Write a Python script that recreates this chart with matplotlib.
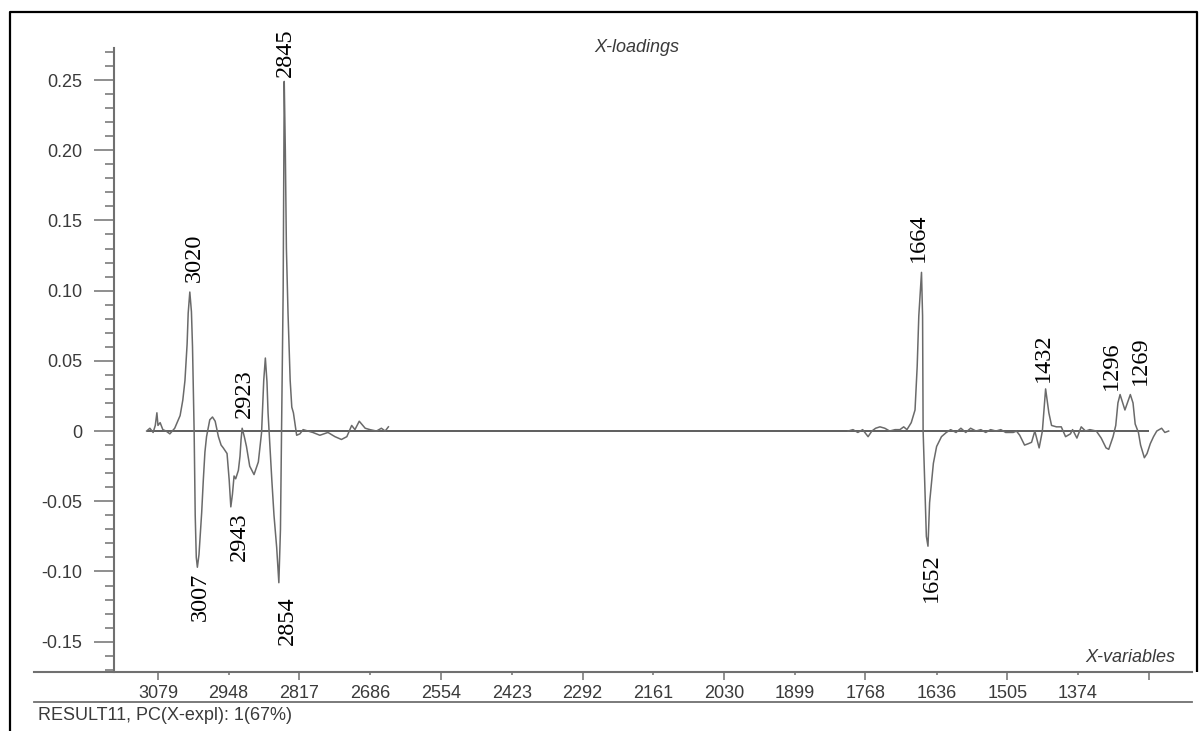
import numpy as np
import matplotlib
matplotlib.use('Agg')
import matplotlib.pyplot as plt
from matplotlib.ticker import FixedLocator

plt.rcParams['font.family'] = ['Liberation Sans', 'DejaVu Sans']

# loadings, two spectral windows (the middle range is excluded)
wn_high = [3100, 3094, 3088, 3084, 3081, 3079, 3075, 3070, 3064, 3057, 3048, 3038, 3033,
           3029, 3025, 3023, 3020, 3017, 3015, 3012, 3010, 3008, 3006, 3003, 3000, 2998,
           2995, 2992, 2989, 2985, 2983, 2978, 2973, 2967, 2962, 2958, 2951, 2947, 2944,
           2941, 2938, 2935, 2930, 2927, 2925, 2923, 2919, 2915, 2909, 2901, 2893, 2887,
           2883, 2880, 2877, 2875, 2868, 2864, 2859, 2855, 2852, 2850, 2847, 2845, 2843,
           2841, 2838, 2834, 2831, 2828, 2822, 2816, 2810, 2801, 2792, 2779, 2764, 2751,
           2739, 2729, 2720, 2714, 2706, 2695, 2686, 2674, 2665, 2658, 2652]
load_high = [0.000, 0.002, -0.001, 0.004, 0.013, 0.004, 0.006, 0.001, 0.000, -0.002, 0.002,
             0.011, 0.022, 0.036, 0.062, 0.084, 0.099, 0.085, 0.060, 0.000, -0.060, -0.090,
             -0.097, -0.088, -0.070, -0.058, -0.035, -0.015, -0.004, 0.004, 0.008, 0.010,
             0.007, -0.004, -0.010, -0.012, -0.016, -0.035, -0.054, -0.045, -0.032, -0.034,
             -0.028, -0.018, -0.006, 0.002, -0.004, -0.011, -0.025, -0.031, -0.022, -0.001,
             0.036, 0.052, 0.035, 0.013, -0.035, -0.060, -0.083, -0.108, -0.070, 0.000,
             0.100, 0.249, 0.200, 0.130, 0.084, 0.036, 0.017, 0.013, -0.003, -0.002, 0.001,
             0.000, -0.001, -0.003, -0.001, -0.004, -0.006, -0.004, 0.004, 0.001, 0.007,
             0.002, 0.001, 0.000, 0.002, 0.000, 0.003]

wn_low = [1800, 1791, 1782, 1773, 1763, 1756, 1749, 1741, 1732, 1723, 1713, 1704, 1697, 1691,
          1683, 1676, 1672, 1669, 1664, 1662, 1661, 1658, 1655, 1652, 1649, 1642, 1636, 1627,
          1618, 1610, 1600, 1591, 1582, 1573, 1563, 1554, 1545, 1536, 1526, 1517, 1508, 1494,
          1488, 1482, 1473, 1466, 1460, 1454, 1446, 1440, 1434, 1428, 1423, 1414, 1405, 1397,
          1388, 1384, 1376, 1368, 1360, 1352, 1340, 1331, 1322, 1317, 1309, 1304, 1300, 1296,
          1287, 1277, 1272, 1268, 1262, 1258, 1251, 1246, 1240, 1234, 1228, 1219, 1213, 1206]
load_low = [0.000, 0.001, -0.001, 0.001, -0.004, 0.000, 0.002, 0.003, 0.002, 0.000, 0.001,
            0.001, 0.003, 0.001, 0.006, 0.015, 0.046, 0.082, 0.113, 0.082, 0.000, -0.037,
            -0.075, -0.082, -0.051, -0.023, -0.011, -0.004, -0.001, 0.001, -0.001, 0.002,
            -0.001, 0.002, 0.000, 0.001, -0.001, 0.001, 0.000, 0.001, -0.001, -0.001, 0.000,
            -0.003, -0.010, -0.009, -0.008, 0.000, -0.012, 0.000, 0.030, 0.013, 0.004, 0.003,
            0.003, -0.004, -0.002, 0.001, -0.005, 0.003, 0.000, 0.001, 0.000, -0.005, -0.012,
            -0.013, -0.004, 0.004, 0.020, 0.026, 0.015, 0.026, 0.020, 0.005, -0.001, -0.010,
            -0.019, -0.016, -0.009, -0.004, 0.000, 0.002, -0.001, 0.000]

# marked peaks: label text = wavenumber, loading at the marked extreme
peak_wn = [3020, 2845, 2923, 1664, 1432, 1296, 1269, 3007, 2943, 2854, 1652]
peak_load = [0.099, 0.249, 0.002, 0.113, 0.031, 0.026, 0.026, -0.097, -0.054, -0.108, -0.082]
# label offset (pixels) from each peak
peak_dx = [2, -1, 0, -5, -5, -11, 4, 1, 6, 6, 1]
peak_dy = [10, 4, 10, 10, 6, 5, 10, 5, 6, 14, 7]

x_major = [3079, 2817, 2554, 2292, 2030, 1768, 1505, 1243]
x_major_labels = ['3079', '2817', '2554', '2292', '2030', '1768', '1505', '']
x_minor = [2948, 2686, 2423, 2161, 1899, 1636, 1374]
x_minor_labels = ['2948', '2686', '2423', '2161', '1899', '1636', '1374']
y_ticks = [-0.15, -0.10, -0.05, 0.0, 0.05, 0.10, 0.15, 0.20, 0.25]
y_labels = ['-0.15', '-0.10', '-0.05', '0', '0.05', '0.10', '0.15', '0.20', '0.25']
baseline_start, baseline_end = 3100, 1243

W, H = 1204, 731
fig = plt.figure(figsize=(W / 100, H / 100), dpi=100)

# frame and separator lines of the window, in pixel coordinates
bg = fig.add_axes([0, 0, 1, 1], zorder=-1)
bg.set_xlim(0, W)
bg.set_ylim(H, 0)
bg.axis('off')
bg.plot([10, 10, 1197, 1197], [H, 12, 12, 672], color='black', lw=1.6, solid_capstyle='butt')
bg.plot([34, 1192], [672, 672], color='#707070', lw=1.5)
bg.plot([34, 1192], [702, 702], color='#707070', lw=1.3)
txt_col = '#3a3a3a'
bg.text(1175, 658, 'X-variables', ha='right', va='center', style='italic', fontsize=13, color=txt_col)
bg.text(637, 47, 'X-loadings', ha='center', va='center', style='italic', fontsize=13, color=txt_col)
bg.text(38, 715, 'RESULT11, PC(X-expl): 1(67%)', ha='left', va='center', fontsize=13, color=txt_col)

ax = fig.add_axes([114 / W, (H - 672) / H, (1192 - 114) / W, (672 - 48) / H])
ax.patch.set_alpha(0)
ax.set_xlim(3160.5, 1162.7)
ax.set_ylim(-0.1716, 0.2728)
for s in ['top', 'right', 'bottom']:
    ax.spines[s].set_visible(False)
ax.spines['left'].set_color('#707070')
ax.spines['left'].set_linewidth(1.5)

ax.hlines(0, baseline_start, baseline_end, color='#505050', lw=1.3)
ax.plot(wn_high, load_high, color='#6a6a6a', lw=1.1)
ax.plot(wn_low, load_low, color='#6a6a6a', lw=1.1)

for w, v, dx, dy in zip(peak_wn, peak_load, peak_dx, peak_dy):
    up = v > 0.0 or w == 2923
    ax.annotate(str(w), xy=(w, v), xytext=(dx + 2, dy if up else -dy),
                textcoords='offset pixels', rotation=90, ha='center',
                va='bottom' if up else 'top', fontsize=17.5,
                family=['Liberation Serif', 'DejaVu Serif'], color='black')

ax.set_yticks(y_ticks)
ax.set_yticklabels(y_labels)
ax.yaxis.set_minor_locator(FixedLocator(np.arange(-0.17, 0.275, 0.01)))
ax.tick_params(axis='y', which='major', length=14.4, width=1.1, pad=8.6,
               color='#707070', labelsize=13, labelcolor=txt_col)
ax.tick_params(axis='y', which='minor', length=6.5, width=1.1, color='#707070')

ax.set_xticks(x_major)
ax.set_xticklabels(x_major_labels)
ax.set_xticks(x_minor, minor=True)
ax.set_xticklabels(x_minor_labels, minor=True)
ax.tick_params(axis='x', which='major', length=5.8, width=1.1, pad=3.6,
               color='#707070', labelsize=13, labelcolor=txt_col)
ax.tick_params(axis='x', which='minor', length=2.2, width=1.1, pad=7.2,
               color='#707070', labelsize=13, labelcolor=txt_col)

fig.savefig('out.png', dpi=100)
